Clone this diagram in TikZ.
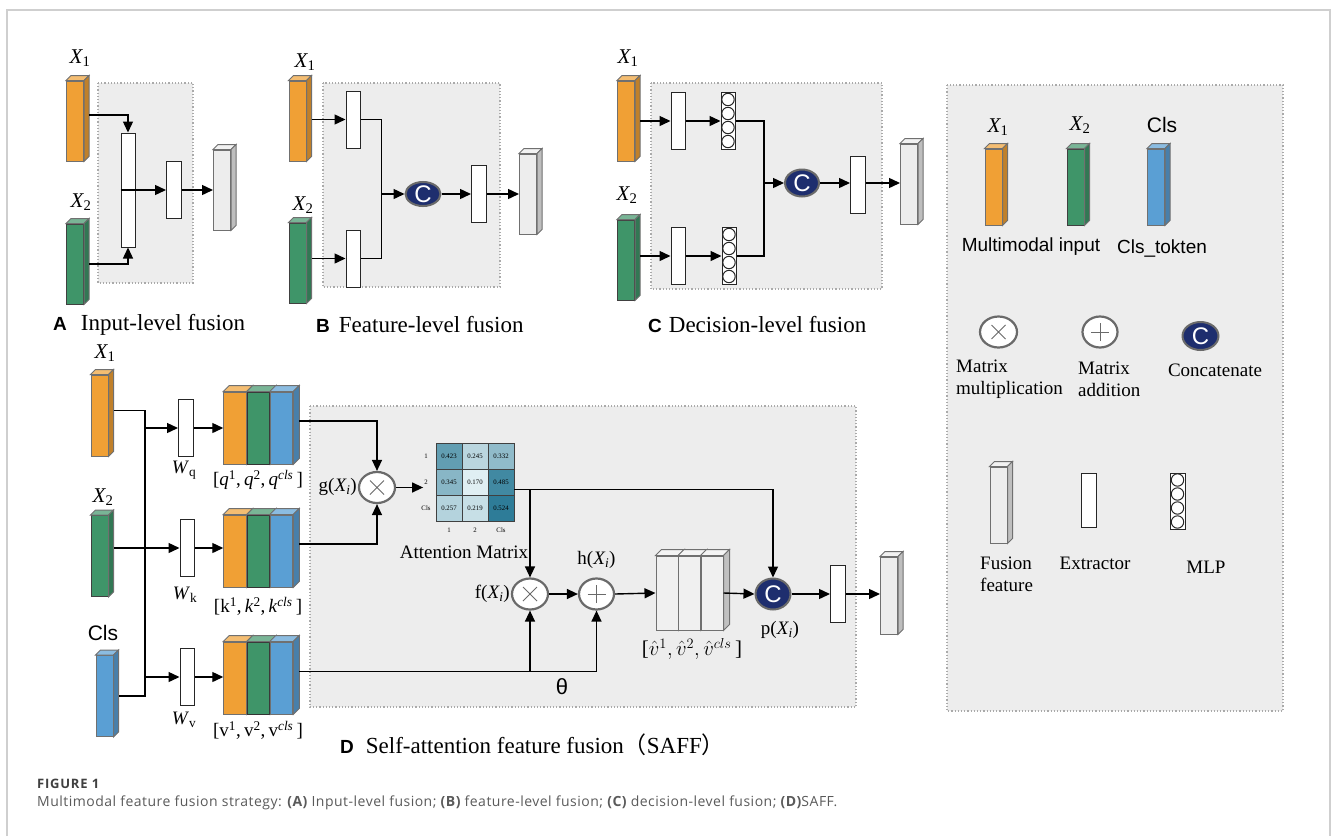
\documentclass[tikz,border=0pt]{standalone}
\usepackage{fontspec}
\setmainfont{Liberation Serif}
\setsansfont{Liberation Sans}
\newfontfamily\capfont{Open Sans}
\newfontfamily\cjk{Noto Sans CJK SC}
\usetikzlibrary{arrows.meta,shapes.geometric}

\definecolor{xorange}{HTML}{F0A035}
\definecolor{xgreen}{HTML}{3F9569}
\definecolor{xblue}{HTML}{5A9FD4}
\definecolor{fusegray}{HTML}{EDEDED}
\definecolor{edgegray}{HTML}{707070}
\definecolor{boxgray}{HTML}{EDEDED}
\definecolor{dotgray}{HTML}{AAAAAA}
\definecolor{opgray}{HTML}{6A6A6A}
\definecolor{cnavy}{HTML}{1E2E6E}
\definecolor{mtxhi}{HTML}{2A7A96}
\definecolor{mtxlo}{HTML}{EAF5F8}
\definecolor{capgray}{HTML}{5A5A5A}
\definecolor{framegray}{HTML}{CFCFCF}

\newcommand{\Xsub}[1]{\textit{X}\kern-0.5pt\textsubscript{#1}}
\newcommand{\faces}[3]{% node, colour, depth
  \filldraw[draw=edgegray,line width=1pt,fill=#2!70!white] (#1.north west) -- ++(#3,#3) -- ([shift={(#3,#3)}]#1.north east) -- (#1.north east) -- cycle;
  \filldraw[draw=edgegray,line width=1pt,fill=#2!80!black] (#1.north east) -- ++(#3,#3) -- ([shift={(#3,#3)}]#1.south east) -- (#1.south east) -- cycle;
}

\begin{document}
\begin{tikzpicture}[x=1pt,y=-1pt,
    conn/.style={line width=1.4pt},
    arr/.style={conn,-{Triangle[length=11pt,width=10pt]}},
    area/.style={fill=boxgray,draw=dotgray,line width=1.2pt,dotted},
    slab/.style={draw=edgegray,line width=1pt,fill=#1,inner sep=0pt,minimum width=17pt,minimum height=80pt},
    cube/.style={slab=#1,minimum width=22.5pt,minimum height=72pt},
    extr/.style={draw=black!85,fill=white,line width=1pt,inner sep=0pt,minimum width=14pt,minimum height=57pt},
    mlp/.style={extr,path picture={
        \foreach \k in {0,...,3}
          \draw[line width=1pt] ([yshift={-7pt-14pt*\k}]path picture bounding box.north) circle (6.2pt);}},
    op/.style={ellipse,draw=opgray,line width=2.2pt,fill=white,inner sep=0pt,minimum width=36pt,minimum height=31pt},
    xop/.style={op,path picture={
        \draw[opgray,line width=1pt] ([shift={(-7pt,-7pt)}]path picture bounding box.center) -- ([shift={(7pt,7pt)}]path picture bounding box.center)
          ([shift={(-7pt,7pt)}]path picture bounding box.center) -- ([shift={(7pt,-7pt)}]path picture bounding box.center);}},
    pop/.style={op,path picture={
        \draw[opgray,line width=1pt] ([xshift=-9pt]path picture bounding box.center) -- ([xshift=9pt]path picture bounding box.center)
          ([yshift=-9pt]path picture bounding box.center) -- ([yshift=9pt]path picture bounding box.center);}},
    cop/.style={ellipse,draw=opgray,line width=2pt,fill=cnavy,text=white,inner sep=0pt,
        minimum width=35pt,minimum height=27pt,font=\sffamily\fontsize{24}{24}\selectfont},
    xlab/.style={font=\fontsize{21}{24}\selectfont},
    stxt/.style={font=\fontsize{19}{22}\selectfont},
    title/.style={anchor=west,inner sep=0pt,font=\fontsize{23}{26}\selectfont},
    sftxt/.style={font=\sffamily\fontsize{19}{22}\selectfont},
    cell/.style={draw=black!75,line width=0.6pt,minimum size=26pt,inner sep=0pt,font=\fontsize{6.8}{8}\selectfont},
    axlab/.style={inner sep=1pt,font=\fontsize{6.8}{8}\selectfont},
  ]
  \useasboundingbox (0,0) rectangle (1331,836);
  \draw[framegray,line width=1.2pt] (7,836) -- (7,10) -- (1330,10) -- (1330,836);

  % A: input-level fusion
  \draw[area] (98,83) rectangle (193,283);
  \node[xlab] (lx1A) at (80,58) {\Xsub{1}};
  \node[slab=xorange] (x1A) at (75,121) {};
  \faces{x1A}{xorange}{5pt}
  \node[xlab] (lx2A) at (81,202) {\Xsub{2}};
  \node[slab=xgreen,draw=black!75] (x2A) at (75,264) {};
  \faces{x2A}{xgreen}{5pt}
  \node[extr,minimum height=114pt] (inA) at (128,190) {};
  \node[extr,minimum width=15pt] (exA) at (174,190) {};
  \node[slab=fusegray] (fuA) at (222,190) {};
  \faces{fuA}{fusegray}{5pt}
  \draw[arr] ([shift={(5pt,6pt)}]x1A.east) -| (inA.north);
  \draw[arr] ([xshift=5pt]x2A.east) -| (inA.south);
  \draw[arr] (inA.west) -- (exA.west);
  \draw[arr] (exA.east) -- (fuA.west);
  \node[title] (tA) at (53,325) {{\sffamily\bfseries\fontsize{19}{22}\selectfont A}\hspace{14pt}Input-level fusion};

  % B: feature-level fusion
  \draw[area] (323,83) rectangle (500,287);
  \node[xlab] (lx1B) at (305,62) {\Xsub{1}};
  \node[slab=xorange] (x1B) at (297.5,121) {};
  \faces{x1B}{xorange}{5pt}
  \node[xlab] (lx2B) at (303,205) {\Xsub{2}};
  \node[slab=xgreen,draw=black!75] (x2B) at (297.5,263) {};
  \faces{x2B}{xgreen}{5pt}
  \node[extr] (e1B) at (353,119.5) {};
  \node[extr] (e2B) at (353,258.5) {};
  \node[cop,minimum height=23pt] (cB) at (423,194) {C};
  \node[extr,minimum width=15pt] (e3B) at (479,194) {};
  \node[slab=fusegray] (fuB) at (528,194) {};
  \faces{fuB}{fusegray}{5pt}
  \coordinate (jB) at (381.5,194);
  \draw[arr] ([shift={(5pt,1.5pt)}]x1B.east) -- (e1B.west);
  \draw[arr] ([shift={(5pt,4.5pt)}]x2B.east) -- (e2B.west);
  \draw[conn] (e1B.east) -| (jB) |- (e2B.east);
  \draw[arr] (jB) -- (cB.west);
  \draw[arr] (cB.east) -- (e3B.west);
  \draw[arr] (e3B.east) -- (fuB.west);
  \node[title] (tB) at (316,325) {{\sffamily\bfseries\fontsize{19}{22}\selectfont B}\hspace{9pt}Feature-level fusion};

  % C: decision-level fusion
  \draw[area] (651,83) rectangle (882,289);
  \node[xlab] (lx1C) at (628,58) {\Xsub{1}};
  \node[slab=xorange] (x1C) at (626,121) {};
  \faces{x1C}{xorange}{5pt}
  \node[xlab] (lx2C) at (627,195) {\Xsub{2}};
  \node[slab=xgreen,draw=black!75] (x2C) at (626,260) {};
  \faces{x2C}{xgreen}{5pt}
  \node[extr] (e1C) at (678,121) {};
  \node[mlp] (m1C) at (728,121) {};
  \node[extr] (e2C) at (678,256) {};
  \node[mlp] (m2C) at (729,256) {};
  \node[cop,minimum width=34pt] (cC) at (802,183) {C};
  \node[extr,minimum width=15pt] (e3C) at (858,185) {};
  \node[slab=fusegray] (fuC) at (909,184) {};
  \faces{fuC}{fusegray}{5pt}
  \coordinate (jC) at (764,183);
  \draw[arr] ([xshift=5pt]x1C.east) -- (e1C.west);
  \draw[arr] (e1C.east) -- (m1C.west);
  \draw[arr] ([shift={(5pt,4pt)}]x2C.east) -- (e2C.west);
  \draw[arr] (e2C.east) -- (m2C.west);
  \draw[conn] (m1C.east) -| (jC) |- (m2C.east);
  \draw[arr] (jC) -- (cC.west);
  \draw[arr] (cC.east) -- (e3C.west |- cC);
  \draw[arr] (e3C.east |- cC) -- (fuC.west |- cC);
  \node[title] (tC) at (648,325) {{\sffamily\bfseries\fontsize{19}{22}\selectfont C}\hspace{7pt}Decision-level fusion};

  % legend
  \draw[area] (947,85) rectangle (1283,711);
  \node[xlab] (lgx1) at (998,127) {\Xsub{1}};
  \node[xlab] (lgx2) at (1080,125) {\Xsub{2}};
  \node[font=\sffamily\fontsize{21}{24}\selectfont] (lgcl) at (1162,125) {Cls};
  \node[slab=xorange,minimum height=76pt] (lgo) at (993.5,187) {};
  \faces{lgo}{xorange}{5pt}
  \node[slab=xgreen,draw=black!75,minimum height=76pt] (lgg) at (1075.5,187) {};
  \faces{lgg}{xgreen}{5pt}
  \node[slab=xblue,minimum height=76pt] (lgb) at (1156,187) {};
  \faces{lgb}{xblue}{5pt}
  \node[sftxt] (tmi) at (1031,247) {Multimodal input};
  \node[sftxt] (tct) at (1162,248) {Cls\_tokten};
  \node[xop,minimum width=37pt] (lgm) at (998.5,332) {};
  \node[pop,minimum width=35pt] (lga) at (1100,332) {};
  \node[cop,minimum width=36pt,minimum height=28pt] (lgc) at (1200.5,336) {C};
  \node[stxt,align=left,anchor=west,inner sep=0pt] (tmm) at (956,379) {Matrix\\multiplication};
  \node[stxt,align=left,anchor=west,inner sep=0pt] (tma) at (1078,379) {Matrix\\addition};
  \node[stxt] (tcc) at (1215,370) {Concatenate};
  \node[slab=fusegray,minimum height=76pt] (lgf) at (998.5,505) {};
  \faces{lgf}{fusegray}{5pt}
  \node[extr,minimum width=15pt,minimum height=54pt] (lge) at (1088.5,500) {};
  \node[mlp,minimum width=15pt,minimum height=56pt] (lgp) at (1177.5,501) {};
  \node[stxt,align=left,anchor=west,inner sep=0pt] (tff) at (980,574) {Fusion\\feature};
  \node[stxt] (tex) at (1095,563) {Extractor};
  \node[stxt] (tml) at (1206,567) {MLP};

  % D: self-attention feature fusion
  \draw[area] (310,406) rectangle (856,707);
  \node[xlab] (lx1D) at (105,353) {\Xsub{1}};
  \node[slab=xorange,minimum height=81pt] (x1D) at (99.5,415.5) {};
  \faces{x1D}{xorange}{5pt}
  \node[xlab] (lx2D) at (103,497) {\Xsub{2}};
  \node[slab=xgreen,draw=black!75,minimum height=81pt] (x2D) at (99.5,556) {};
  \faces{x2D}{xgreen}{5pt}
  \node[font=\sffamily\fontsize{21}{24}\selectfont] (lclD) at (103,633) {Cls};
  \node[slab=xblue,minimum height=81pt] (clD) at (104.5,696) {};
  \faces{clD}{xblue}{5pt}
  \coordinate (jD1) at (145,410.5);
  \coordinate (jD3) at (145,696);
  \coordinate (bq) at (145,428);
  \coordinate (bv) at (145,677);
  \node[extr,minimum width=15pt] (wq) at (186,428) {};
  \node[extr] (wk) at (187,548) {};
  \node[extr] (wv) at (187,677) {};
  \node[stxt] (lwq) at (184,470) {\textit{W}\textsubscript{q}};
  \node[stxt] (lwk) at (185,595) {\textit{W}\textsubscript{k}};
  \node[stxt] (lwv) at (184,720) {\textit{W}\textsubscript{v}};
  \draw[conn] ([shift={(5pt,5pt)}]x1D.east) -- (jD1) -- (jD3) -- ([xshift=5pt]clD.east);
  \draw[arr] (bq) -- (wq.west);
  \draw[arr] ([shift={(5pt,8pt)}]x2D.east) -- (wk.west);
  \draw[arr] (bv) -- (wv.west);
  \foreach \s/\y in {q/428,k/551,v/678} {
    \node[cube=xorange] (\s O) at (235,\y) {};
    \faces{\s O}{xorange}{6pt}
    \node[cube=xgreen,draw=black!80] (\s G) at (258.5,\y) {};
    \faces{\s G}{xgreen}{6pt}
    \node[cube=xblue] (\s B) at (281.5,\y) {};
    \faces{\s B}{xblue}{6pt}
  }
  \draw[arr] (wq.east) -- (qO.west);
  \draw[arr] (wk.east) -- (wk.east -| kO.west);
  \draw[arr] (wv.east) -- (wv.east -| vO.west);
  \node[stxt] (lq) at (258,480) {[\textit{q}\textsuperscript{1},\,\textit{q}\textsuperscript{2},\,\textit{q}\textsuperscript{\textit{cls}}\,]};
  \node[stxt] (lk) at (258,606) {[k\textsuperscript{1},\,\textit{k}\textsuperscript{2},\,\textit{k}\textsuperscript{\textit{cls}}\,]};
  \node[stxt] (lv) at (258,730) {[v\textsuperscript{1},\,v\textsuperscript{2},\,v\textsuperscript{\textit{cls}}\,]};

  \node[xop] (mD) at (377,487.5) {};
  \node[stxt,anchor=east,inner sep=1pt] (lg) at (358,487) {g(\Xsub{\textit{i}})};
  \foreach \val [count=\k from 0] in {0.423,0.245,0.332,0.345,0.170,0.485,0.257,0.219,0.524} {
    \pgfmathtruncatemacro\mr{div(\k,3)}
    \pgfmathtruncatemacro\mc{mod(\k,3)}
    \pgfmathtruncatemacro\pc{(\val-0.15)/0.38*100}
    \node[cell,fill=mtxhi!\pc!mtxlo] (m\mr\mc) at (449+26*\mc,456.5+26*\mr) {\val};
  }
  \foreach \t [count=\k] in {1,2,Cls} {
    \node[axlab] (r\k) at (426,430.5+26*\k) {\t};
    \node[axlab] (c\k) at (423+26*\k,530) {\t};
  }
  \node[stxt] (lam) at (464,552) {Attention Matrix};
  \coordinate (mout) at ([yshift=-7pt]m12.east);

  \node[xop] (mD2) at (530,594) {};
  \node[stxt,anchor=east,inner sep=1pt] (lf) at (511,594) {f(\Xsub{\textit{i}})};
  \node[pop,minimum width=35pt] (aD) at (596.5,594) {};
  \node[stxt] (lh) at (596.5,560) {h(\Xsub{\textit{i}})};
  \foreach \n/\x in {1/667,2/689.5,3/712} {
    \node[cube=white!94!black,minimum width=22pt,minimum height=74pt] (vh\n) at (\x,593) {};
    \faces{vh\n}{white!94!black}{6pt}
  }
  \node[font=\fontsize{21}{24}\selectfont] (lvh) at (692,649) {[$\hat{v}^1,\hat{v}^2,\hat{v}^{cls}$\,]};
  \node[cop,minimum height=31pt] (cD) at (773,594) {C};
  \node[stxt] (lp) at (780,630) {p(\Xsub{\textit{i}})};
  \node[extr,minimum width=15pt] (eD) at (838,594) {};
  \node[slab=fusegray,minimum height=77pt] (fuD) at (889,595.5) {};
  \faces{fuD}{fusegray}{5pt}

  \draw[arr] ([shift={(6pt,7pt)}]qB.east) -| (mD.north);
  \draw[arr] ([shift={(6pt,7pt)}]kB.east) -| (mD.south);
  \draw[arr] (mD.east) -- (mD.east -| r2.west);
  \draw[arr] (mout) -| (cD.north);
  \draw[arr] (mD2.north |- mout) -- (mD2.north);
  \draw[arr] (mD2.east) -- (aD.west);
  \draw[arr] (aD.east) -- (vh1.west);
  \draw[arr] (vh3.east) -- (cD.west);
  \draw[arr] (cD.east) -- (eD.west);
  \draw[arr] (eD.east) -- (fuD.west |- eD);
  \coordinate (vs) at ([shift={(6pt,6.5pt)}]vB.east);
  \draw[conn] (vs) -- (vs -| aD.south);
  \draw[arr] (vs -| aD.south) -- (aD.south);
  \draw[arr] (vs -| mD2.south) -- (mD2.south);
  \node[font=\sffamily\fontsize{22}{24}\selectfont] (lth) at (562,687) {θ};
  \node[title] (tD) at (340,745) {{\sffamily\bfseries\fontsize{19}{22}\selectfont D}\hspace{12pt}Self-attention feature fusion{\cjk （}SAFF{\cjk ）}};

  % caption
  \node[anchor=west,inner sep=0pt,text=black!75,font=\capfont\bfseries\fontsize{13}{15}\selectfont\addfontfeatures{LetterSpace=6}] (fig) at (37,784) {FIGURE 1};
  \node[anchor=west,inner sep=0pt,text=capgray,font=\capfont\fontsize{14}{16}\selectfont\addfontfeatures{LetterSpace=3.5}] (cap) at (37,803)
    {Multimodal feature fusion strategy: {\bfseries(A)} Input-level fusion; {\bfseries(B)} feature-level fusion; {\bfseries(C)} decision-level fusion; {\bfseries(D)}SAFF.};
\end{tikzpicture}
\end{document}
